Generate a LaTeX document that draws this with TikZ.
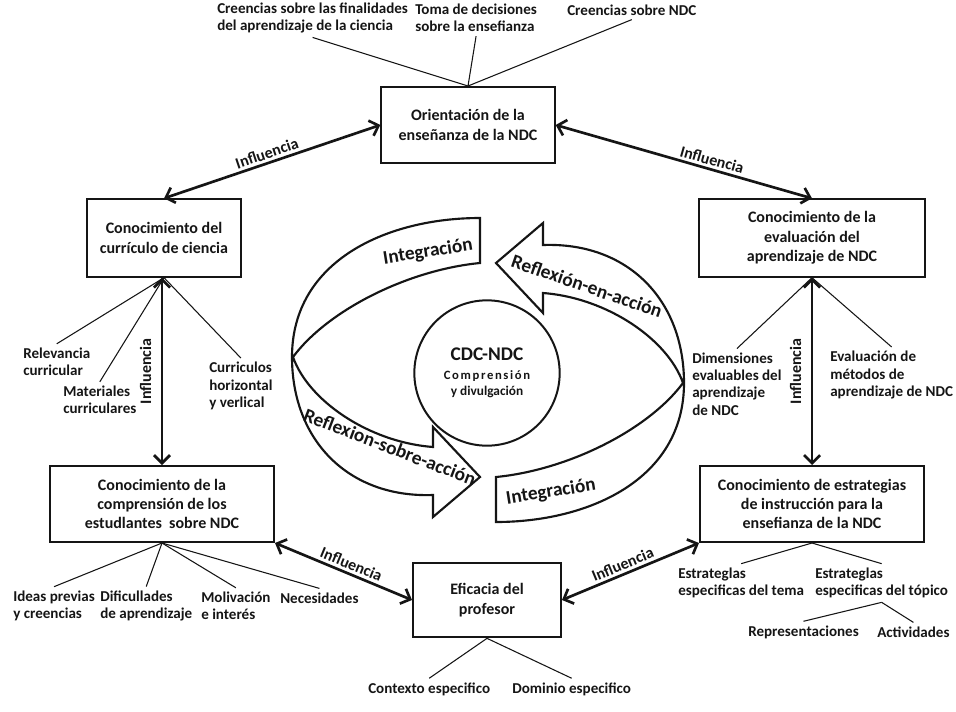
\documentclass[tikz,border=0pt]{standalone}
\usepackage{fontspec}
\setmainfont{Carlito}
\newfontfamily\spacedfont[LetterSpace=13]{Carlito}
\usepackage{tikz}
\usetikzlibrary{arrows.meta,calc}
\definecolor{ink}{HTML}{151515}

\begin{document}
\begin{tikzpicture}[x=0.75pt,y=-0.75pt,
  box/.style={draw=ink,line width=1.5pt,align=center,text=ink,inner sep=2pt,
    font=\bfseries\fontsize{12}{14.5}\selectfont},
  lab/.style={font=\bfseries\fontsize{11.3}{12.9}\selectfont,text=ink,inner xsep=0pt,inner ysep=3pt,
    align=left,anchor=west},
  wire/.style={draw=ink,line width=0.8pt},
  infl/.style={draw=ink,line width=2pt,
    {Straight Barb[length=6pt,width=12pt]}-{Straight Barb[length=6pt,width=12pt]}},
  inftxt/.style={font=\bfseries\fontsize{12}{14}\selectfont,text=ink,sloped,inner sep=2pt},
  band/.style={draw=ink,fill=white,line width=1.6pt,line join=miter},
  bandtxt/.style={font=\bfseries\fontsize{14.5}{17}\selectfont,text=ink,inner sep=0pt}]
\useasboundingbox (0,0) rectangle (956,711);

% boxes
\node[box,minimum width=130pt,minimum height=57pt] (ori) at (468,125) {Orientación de la\\enseñanza de la NDC};
\node[box,minimum width=116pt,minimum height=58pt] (cur) at (164,238) {Conocimiento del\\currículo de ciencia};
\node[box,minimum width=169pt,minimum height=58pt] (eva) at (812,238) {Conocimiento de la\\evaluación del\\aprendizaje de NDC};
\node[box,minimum width=168pt,minimum height=57pt] (est) at (162,504) {Conocimiento de la\\comprensión de los\\estudlantes\ \ sobre NDC};
\node[box,minimum width=168pt,minimum height=57pt] (ins) at (812,504) {Conocimiento de estrategias\\de instrucción para la\\ensefianza de la NDC};
\node[box,minimum width=111pt,minimum height=56pt] (efi) at (487,600) {Eficacia del\\profesor};

% center cycle
\foreach \r in {0,180}{
\begin{scope}[shift={(488,370)},rotate=\r]
\draw[band] (-8,-152) .. controls (-100,-152) and (-196,-110) .. (-196,-13)
  .. controls (-196,70) and (-140,128) .. (-55,125)
  -- (-55,147) -- (-8,107) -- (-55,57) -- (-55,77)
  .. controls (-120,72) and (-180,30) .. (-195,-13)
  .. controls (-160,-60) and (-80,-100) .. (-8,-107) -- cycle;
\end{scope}}
\node[bandtxt,rotate=9] (int1) at (428,252) {Integración};
\node[bandtxt,rotate=-21] (rsa) at (390,447) {Reflexion-sobre-acción};
\node[bandtxt,rotate=-19] (rea) at (587,286) {Reflexión-en-acción};
\node[bandtxt,rotate=9] (int2) at (551,492) {Integración};
\node[circle,draw=ink,line width=1.5pt,minimum size=109pt,align=center,text=ink,inner sep=0pt,
  font=\bfseries] (cdc) at (487,373)
  {\fontsize{14.5}{16}\selectfont CDC-NDC\\[2pt]\spacedfont\fontsize{9.5}{12}\selectfont Comprensión\\y divulgación};

% labels
\node[lab] (cfin) at (217,18) {Creencias sobre las finalidades\\del aprendizaje de la ciencia};
\node[lab] (toma) at (415,18) {Toma de decisiones\\sobre la ensefianza};
\node[lab] (cndc) at (567,10) {Creencias sobre NDC};
\node[lab] (rel) at (23,362) {Relevancia\\curricular};
\node[lab] (mat) at (63,400) {Materiales\\curriculares};
\node[lab] (crh) at (209,386) {Curriculos\\horizontal\\y verlical};
\node[lab] (dim) at (692,384) {Dimensiones\\evaluables del\\aprendizaje\\de NDC};
\node[lab] (evm) at (830,375) {Evaluación de\\métodos de\\aprendizaje de NDC};
\node[lab] (ide) at (13,606) {Ideas previas\\y creencias};
\node[lab] (dif) at (100,606) {Dificullades\\de aprendizaje};
\node[lab] (mol) at (201,606) {Molivación\\e interés};
\node[lab] (nec) at (280,598) {Necesidades};
\node[lab] (con) at (368,689) {Contexto especifico};
\node[lab] (dom) at (512,689) {Dominio especifico};
\node[lab] (etm) at (678,583) {Estrateglas\\especificas del tema};
\node[lab] (etp) at (815,583) {Estrateglas\\especificas del tópico};
\node[lab] (rep) at (748,632) {Representaciones};
\node[lab] (act) at (877,632) {Actividades};

% wires
\foreach \t in {cfin,toma,cndc} \draw[wire] (ori.north) -- (\t.south);
\foreach \t in {rel,mat,crh} \draw[wire] (cur.south) -- (\t.north);
\foreach \t in {dim,evm} \draw[wire] (eva.south) -- (\t.north);
\foreach \t in {ide,dif,mol,nec} \draw[wire] (est.south) -- (\t.north);
\foreach \t in {con,dom} \draw[wire] (efi.south) -- (\t.north);
\foreach \t in {etm,etp} \draw[wire] (ins.south) -- (\t.north);
\foreach \t in {rep,act} \draw[wire] (etp.south) -- (\t.north);

% influence arrows
\draw[infl] (cur.north) -- node[inftxt,above,pos=0.49] {Influencia} (ori.west);
\draw[infl] (ori.east) -- node[inftxt,above,pos=0.6] {Influencia} (eva.north);
\draw[infl] (est.north) -- node[inftxt,above=5pt] {Influencia} (est.north |- cur.south);
\draw[infl] (ins.north) -- node[inftxt,above=5pt] {Influencia} (ins.north |- eva.south);
\draw[infl] (est.south east) -- node[inftxt,above,pos=0.53] {Influencia} (efi.west);
\draw[infl] (efi.east) -- node[inftxt,above,pos=0.47] {Influencia} (ins.south west);
\end{tikzpicture}
\end{document}
